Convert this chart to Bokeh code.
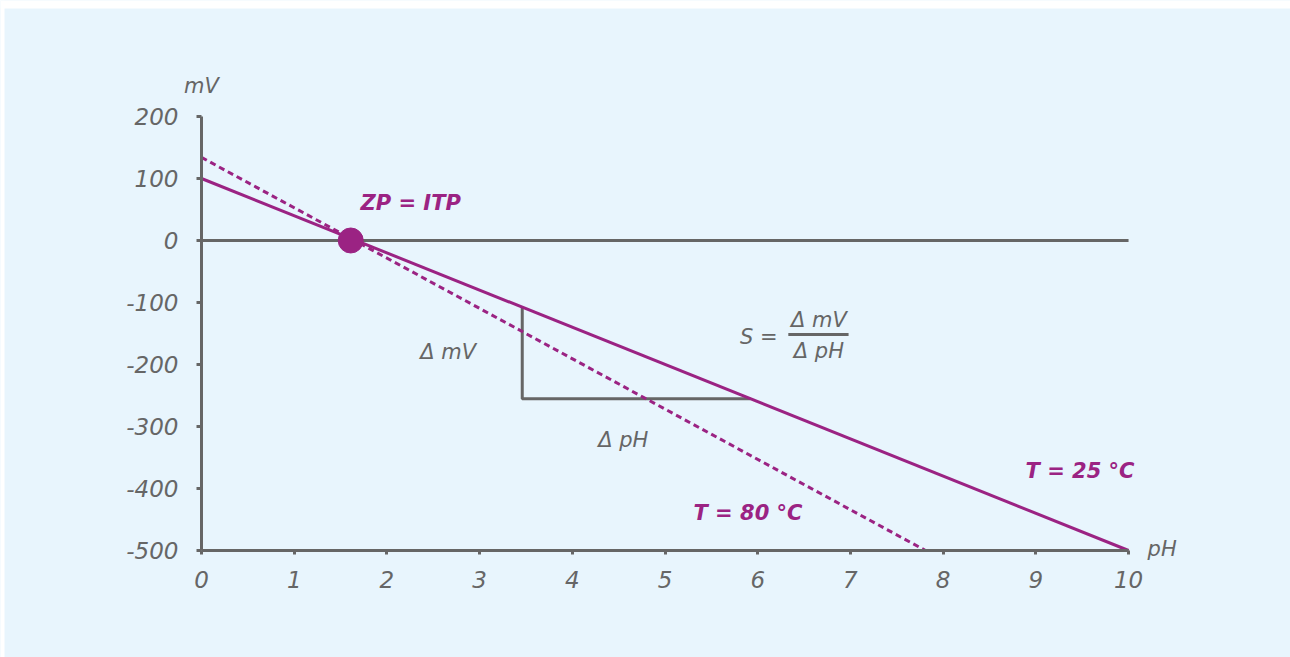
import numpy as np
from bokeh.plotting import figure
from bokeh.models import Range1d, FixedTicker, BoxAnnotation
from bokeh.core.properties import value
from bokeh.embed import file_html
from bokeh.resources import INLINE

# ---- data ----
ph_ticks = [0, 1, 2, 3, 4, 5, 6, 7, 8, 9, 10]
mv_ticks = [-500, -400, -300, -200, -100, 0, 100, 200]

ph_25 = [0, 10]
mv_25 = [100, -500]          # T = 25 °C (solid)
ph_80 = [0, 7.81]
mv_80 = [134, -500]          # T = 80 °C (dashed)

zero_ph = [0, 10]
zero_mv = [0, 0]

zp_ph = [1.61]
zp_mv = [0]

slope_ph = [3.46, 5.92]      # Δ pH triangle span on the 25 °C line

PURPLE = "#9B2383"
GRAY = "#666666"
BG = "#E8F5FD"
FONT = "DejaVu Sans"

X0, X1 = -2.168, 11.747
Y0, Y1 = -672.6, 387.1

p = figure(width=1290, height=657, output_backend="svg", toolbar_location=None,
           x_range=Range1d(X0, X1), y_range=Range1d(Y0, Y1),
           min_border=0)
p.background_fill_color = BG
p.border_fill_color = BG
p.outline_line_color = None
p.grid.visible = False

# white page margin strips (top and left)
p.add_layout(BoxAnnotation(bottom=Y1 - 8 * (Y1 - Y0) / 657, fill_color="white",
                           fill_alpha=1, line_color=None))
p.add_layout(BoxAnnotation(right=X0 + 4 * (X1 - X0) / 1290, fill_color="white",
                           fill_alpha=1, line_color=None))

for ax in (p.xaxis[0], p.yaxis[0]):
    ax.axis_line_color = GRAY
    ax.axis_line_width = 3
    ax.major_tick_line_color = GRAY
    ax.major_tick_line_width = 3
    ax.minor_tick_line_color = None
    ax.major_tick_in = 0
    ax.major_label_text_font = FONT
    ax.major_label_text_font_style = "italic"
    ax.major_label_text_font_size = "23px"
    ax.major_label_text_color = GRAY

p.xaxis.ticker = FixedTicker(ticks=ph_ticks)
p.xaxis.bounds = (ph_ticks[0], ph_ticks[-1])
p.xaxis.fixed_location = mv_ticks[0]
p.xaxis.major_tick_out = 4
p.xaxis.major_label_standoff = 17
p.yaxis.ticker = FixedTicker(ticks=mv_ticks)
p.yaxis.bounds = (mv_ticks[0], mv_ticks[-1])
p.yaxis.fixed_location = ph_ticks[0]
p.yaxis.major_tick_out = 5
p.yaxis.major_label_standoff = 18
p.yaxis.major_label_overrides = {t: str(t) for t in mv_ticks}

# zero line
p.line(zero_ph, zero_mv, line_color=GRAY, line_width=3)

# slope triangle
tri_mv = list(np.interp(slope_ph, ph_25, mv_25))
p.line([slope_ph[0], slope_ph[0], slope_ph[1]],
       [tri_mv[0], tri_mv[1], tri_mv[1]], line_color=GRAY, line_width=3)

# lines
p.line(ph_80, mv_80, line_color=PURPLE, line_width=3, line_dash="6 4")
p.line(ph_25, mv_25, line_color=PURPLE, line_width=3)

# zero point
p.scatter(zp_ph, zp_mv, size=25, color=PURPLE)

# fraction bar
p.segment(x0=[6.33], y0=[-151.6], x1=[6.98], y1=[-151.6], line_color=GRAY, line_width=3)

def txt(x, y, s, color=GRAY, style="italic", align="left", size="21px"):
    p.text(x=[x], y=[y], text=[s], text_color=color, text_font=value(FONT),
           text_font_style=style, text_font_size=size, text_align=align,
           text_baseline="middle")

txt(0, 250, "mV", align="center")
txt(10.205, -498, "pH")
txt(1.715, 61, "ZP = ITP", color=PURPLE, style="bold italic")
txt(2.66, -180, "Δ mV", align="center")
txt(4.55, -321, "Δ pH", align="center")
txt(5.81, -155, "S =")
txt(6.66, -129, "Δ mV", align="center")
txt(6.66, -179, "Δ pH", align="center")
txt(8.889, -371, "T = 25 °C", color=PURPLE, style="bold italic")
txt(5.307, -439, "T = 80 °C", color=PURPLE, style="bold italic")

open("out.html", "w").write(file_html(p, INLINE))
